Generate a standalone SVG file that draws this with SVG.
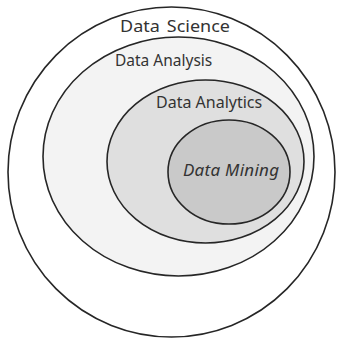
<svg xmlns="http://www.w3.org/2000/svg" width="338" height="340" viewBox="0 0 338 340">
  <style>
    .ring { stroke: #262626; stroke-width: 1.6; }
    .lbl { font-family: "Noto Sans", "DejaVu Sans", sans-serif; fill: #333333; }
  </style>
  <rect width="338" height="340" fill="#ffffff"/>
  <g id="data-science">
    <ellipse class="ring" cx="171.5" cy="172" rx="163.5" ry="165" fill="#ffffff"/>
    <text class="lbl" x="120" y="32" font-size="15.5" word-spacing="2" textLength="110" lengthAdjust="spacingAndGlyphs">Data Science</text>
  </g>
  <g id="data-analysis">
    <ellipse class="ring" cx="178.5" cy="156.5" rx="135.5" ry="119.5" fill="#f3f3f3"/>
    <text class="lbl" x="115" y="66" font-size="15.5">Data Analysis</text>
  </g>
  <g id="data-analytics">
    <ellipse class="ring" cx="205.5" cy="161.5" rx="98.5" ry="81.5" fill="#dfdfdf"/>
    <text class="lbl" x="156" y="108" font-size="16">Data Analytics</text>
  </g>
  <g id="data-mining">
    <ellipse class="ring" cx="229" cy="172" rx="61" ry="52" fill="#c9c9c9"/>
    <text class="lbl" x="183" y="176" font-size="17" font-style="italic" textLength="96" fill="#3a3a3a">Data Mining</text>
  </g>
</svg>
